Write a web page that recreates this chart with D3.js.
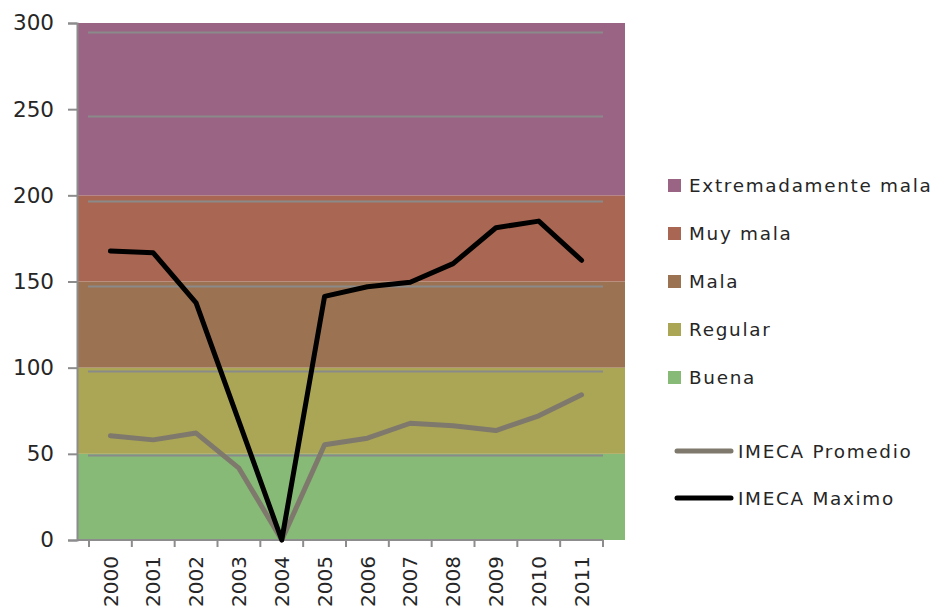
<!DOCTYPE html>
<html>
<head>
<meta charset="utf-8">
<script src="https://cdn.jsdelivr.net/npm/d3@7"></script>
<style>
  html, body { margin: 0; padding: 0; background: #fff; }
  svg { display: block; }
  text { font-family: "DejaVu Sans", sans-serif; fill: #262626; }
  .y-axis text { font-size: 21.5px; }
  .x-axis text { font-size: 20px; }
  .legend text { font-size: 18.4px; letter-spacing: 1.7px; }
</style>
</head>
<body>
<svg id="chart" width="938" height="608"></svg>
<script>
// Years on the category axis
const years = ["2000","2001","2002","2003","2004","2005","2006","2007","2008","2009","2010","2011"];

// IMECA yearly values
const imecaPromedio = [61.5, 59.1, 63.1, 42.4, 0, 56.2, 60.1, 68.9, 67.4, 64.6, 73.3, 85.7];
const imecaMaximo   = [170.5, 169.5, 140, 70, 0, 143.8, 149.5, 152.1, 163.1, 184.3, 188.2, 165.1];

// Air-quality bands (lower / upper IMECA bound)
const bandNames  = ["Buena", "Regular", "Mala", "Muy mala", "Extremadamente mala"];
const bandLower  = [0, 50, 100, 150, 200];
const bandUpper  = [50, 100, 150, 200, 300];
const bandColors = ["#87b977", "#aba655", "#9c7352", "#a96653", "#9a6585"];

// Value-axis ticks
const yTicks = [0, 50, 100, 150, 200, 250, 300];

const lineSeries = [
  { name: "IMECA Promedio", values: imecaPromedio, color: "#7e796c" },
  { name: "IMECA Maximo",   values: imecaMaximo,   color: "#000000" }
];

const svg = d3.select("#chart");

// Plot area for the bands and the visible value axis
const plot = { left: 77, right: 625, top: 23, bottom: 540 };
// Inner area used by the line series, their gridlines and the category axis
const inner = { left: 89, right: 603, top: 31.7, bottom: 540 };

const yBand = d3.scaleLinear().domain([0, 300]).range([plot.bottom, plot.top]);
const yLine = d3.scaleLinear().domain([0, 300]).range([inner.bottom, inner.top]);
const x = d3.scaleBand().domain(years).range([inner.left, inner.right]);

// Background bands
svg.append("g").selectAll("rect")
  .data(bandNames)
  .join("rect")
  .attr("x", plot.left)
  .attr("width", plot.right - plot.left)
  .attr("y", (d, i) => yBand(bandUpper[i]))
  .attr("height", (d, i) => yBand(bandLower[i]) - yBand(bandUpper[i]))
  .attr("fill", (d, i) => bandColors[i]);

// Horizontal gridlines
svg.append("g").selectAll("line")
  .data(yTicks.filter(t => t > 0))
  .join("line")
  .attr("x1", inner.left - 1)
  .attr("x2", inner.right)
  .attr("y1", d => Math.round(yLine(d)) + 0.5)
  .attr("y2", d => Math.round(yLine(d)) + 0.5)
  .attr("stroke", "#8a8a8a")
  .attr("stroke-width", 2);

// Value axis (left)
const yAxis = d3.axisLeft(yBand).tickValues(yTicks).tickSize(9).tickPadding(14);
const gy = svg.append("g")
  .attr("class", "y-axis")
  .attr("transform", `translate(${plot.left},0)`)
  .call(yAxis);
gy.attr("font-size", null).attr("font-family", null);
gy.select(".domain").attr("stroke", "#8c8c8c").attr("stroke-width", 2);
gy.selectAll(".tick line").attr("stroke", "#8c8c8c").attr("stroke-width", 2);
gy.selectAll(".tick text").attr("fill", "#262626");

// Category axis (bottom)
const xAxis = d3.axisBottom(x).tickSize(0).tickFormat(d => d);
const gx = svg.append("g")
  .attr("class", "x-axis")
  .attr("transform", `translate(0,${inner.bottom})`)
  .call(xAxis);
gx.attr("font-size", null).attr("font-family", null);
gx.select(".domain").remove();
gx.append("line")
  .attr("x1", plot.left).attr("x2", inner.right)
  .attr("y1", 0).attr("y2", 0)
  .attr("stroke", "#8c8c8c").attr("stroke-width", 2);
// Tick marks sit on the category boundaries
gx.append("g").selectAll("line")
  .data(d3.range(years.length + 1))
  .join("line")
  .attr("x1", i => inner.left + i * x.step())
  .attr("x2", i => inner.left + i * x.step())
  .attr("y1", 0).attr("y2", 7)
  .attr("stroke", "#8c8c8c").attr("stroke-width", 2);
gx.selectAll(".tick text")
  .attr("fill", "#262626")
  .attr("text-anchor", "end")
  .attr("transform", "rotate(-90)")
  .attr("x", -16)
  .attr("y", 0)
  .attr("dy", "0.36em");

// Line series
const line = d3.line()
  .x((d, i) => x(years[i]) + x.bandwidth() / 2)
  .y(d => yLine(d));

svg.append("g").selectAll("path")
  .data(lineSeries)
  .join("path")
  .attr("d", d => line(d.values))
  .attr("fill", "none")
  .attr("stroke", d => d.color)
  .attr("stroke-width", 5)
  .attr("stroke-linejoin", "round")
  .attr("stroke-linecap", "round");

// Legend: bands, top category first
const legend = svg.append("g").attr("class", "legend");
const bandOrder = d3.range(bandNames.length).reverse();
const legendItems = legend.selectAll("g.band")
  .data(bandOrder)
  .join("g")
  .attr("class", "band")
  .attr("transform", (d, k) => `translate(668,${185.5 + k * 48})`);
legendItems.append("rect")
  .attr("x", 0).attr("y", -6.5)
  .attr("width", 13).attr("height", 13)
  .attr("fill", i => bandColors[i]);
legendItems.append("text")
  .attr("x", 21).attr("y", 0).attr("dy", "0.36em")
  .text(i => bandNames[i]);

// Legend: line series
const lineItems = legend.selectAll("g.series")
  .data(lineSeries)
  .join("g")
  .attr("class", "series")
  .attr("transform", (d, k) => `translate(677,${451 + k * 47})`);
lineItems.append("line")
  .attr("x1", 0).attr("x2", 54)
  .attr("y1", 0).attr("y2", 0)
  .attr("stroke", d => d.color)
  .attr("stroke-width", 5)
  .attr("stroke-linecap", "round");
lineItems.append("text")
  .attr("x", 61).attr("y", 0).attr("dy", "0.36em")
  .text(d => d.name);
</script>
</body>
</html>
